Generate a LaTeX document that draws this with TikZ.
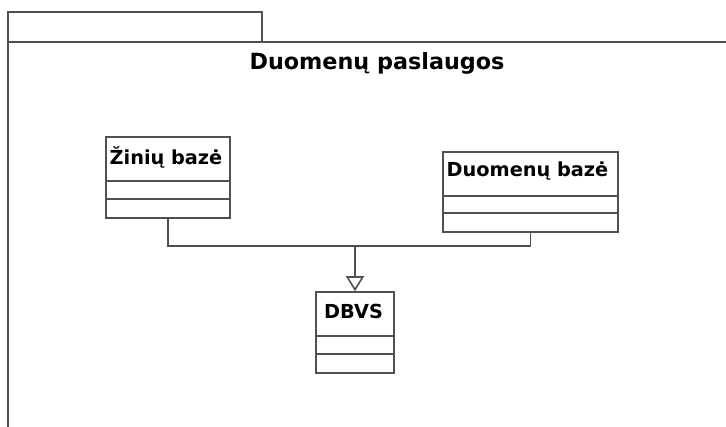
\documentclass[tikz,border=0pt]{standalone}
\usepackage{fontspec}
\setmainfont{DejaVu Sans}
\usetikzlibrary{arrows.meta}
\definecolor{linec}{RGB}{80,80,80}
\tikzset{
  frameline/.style={draw=linec, line width=1.6pt},
  cls/.style={rectangle, draw=linec, line width=1.6pt, inner sep=0pt},
  sepline/.style={draw=linec, line width=1.6pt},
  clsname/.style={font=\fontsize{19.3}{21}\selectfont\bfseries, inner sep=0pt, anchor=base},
  pkgtitle/.style={font=\fontsize{22.3}{24}\selectfont\bfseries, inner sep=0pt, anchor=base},
  link/.style={draw=linec, line width=1.6pt},
  generalize/.style={link, -{Triangle[open, length=15pt, width=18pt]}}
}
\begin{document}
\begin{tikzpicture}[x=1pt, y=-1pt]
  \useasboundingbox (0,0) rectangle (726,427);
  % package tab and frame (open to the right and bottom)
  \draw[frameline] (8,42) -- (8,12) -- (262,12) -- (262,42);
  \draw[frameline] (727,42) -- (8,42) -- (8,428);
  \node[pkgtitle] (title) at (377,70) {Duomenų paslaugos};

  % classes
  \node[cls, minimum width=124pt, minimum height=81pt] (zb) at (168,177.5) {};
  \draw[sepline] ([yshift=-45pt]zb.north west) -- ([yshift=-45pt]zb.north east);
  \draw[sepline] ([yshift=-63pt]zb.north west) -- ([yshift=-63pt]zb.north east);
  \node[clsname] (zbname) at ([xshift=-2pt, yshift=-28pt]zb.north) {Žinių bazė};

  \node[cls, minimum width=175pt, minimum height=80pt] (db) at (530.5,192) {};
  \draw[sepline] ([yshift=-45pt]db.north west) -- ([yshift=-45pt]db.north east);
  \draw[sepline] ([yshift=-62pt]db.north west) -- ([yshift=-62pt]db.north east);
  \node[clsname] (dbname) at ([xshift=-3pt, yshift=-25pt]db.north) {Duomenų bazė};

  \node[cls, minimum width=78pt, minimum height=81pt] (dbvs) at (355,332.5) {};
  \draw[sepline] ([yshift=-45pt]dbvs.north west) -- ([yshift=-45pt]dbvs.north east);
  \draw[sepline] ([yshift=-63pt]dbvs.north west) -- ([yshift=-63pt]dbvs.north east);
  \node[clsname] (dbvsname) at ([xshift=-1.5pt, yshift=-27pt]dbvs.north) {DBVS};

  % generalization
  \coordinate (jn) at (dbvs.north |- 0,246);
  \draw[link] (zb.south) |- (jn) -| (db.south);
  \draw[generalize] (jn) -- (dbvs.north);
\end{tikzpicture}
\end{document}
